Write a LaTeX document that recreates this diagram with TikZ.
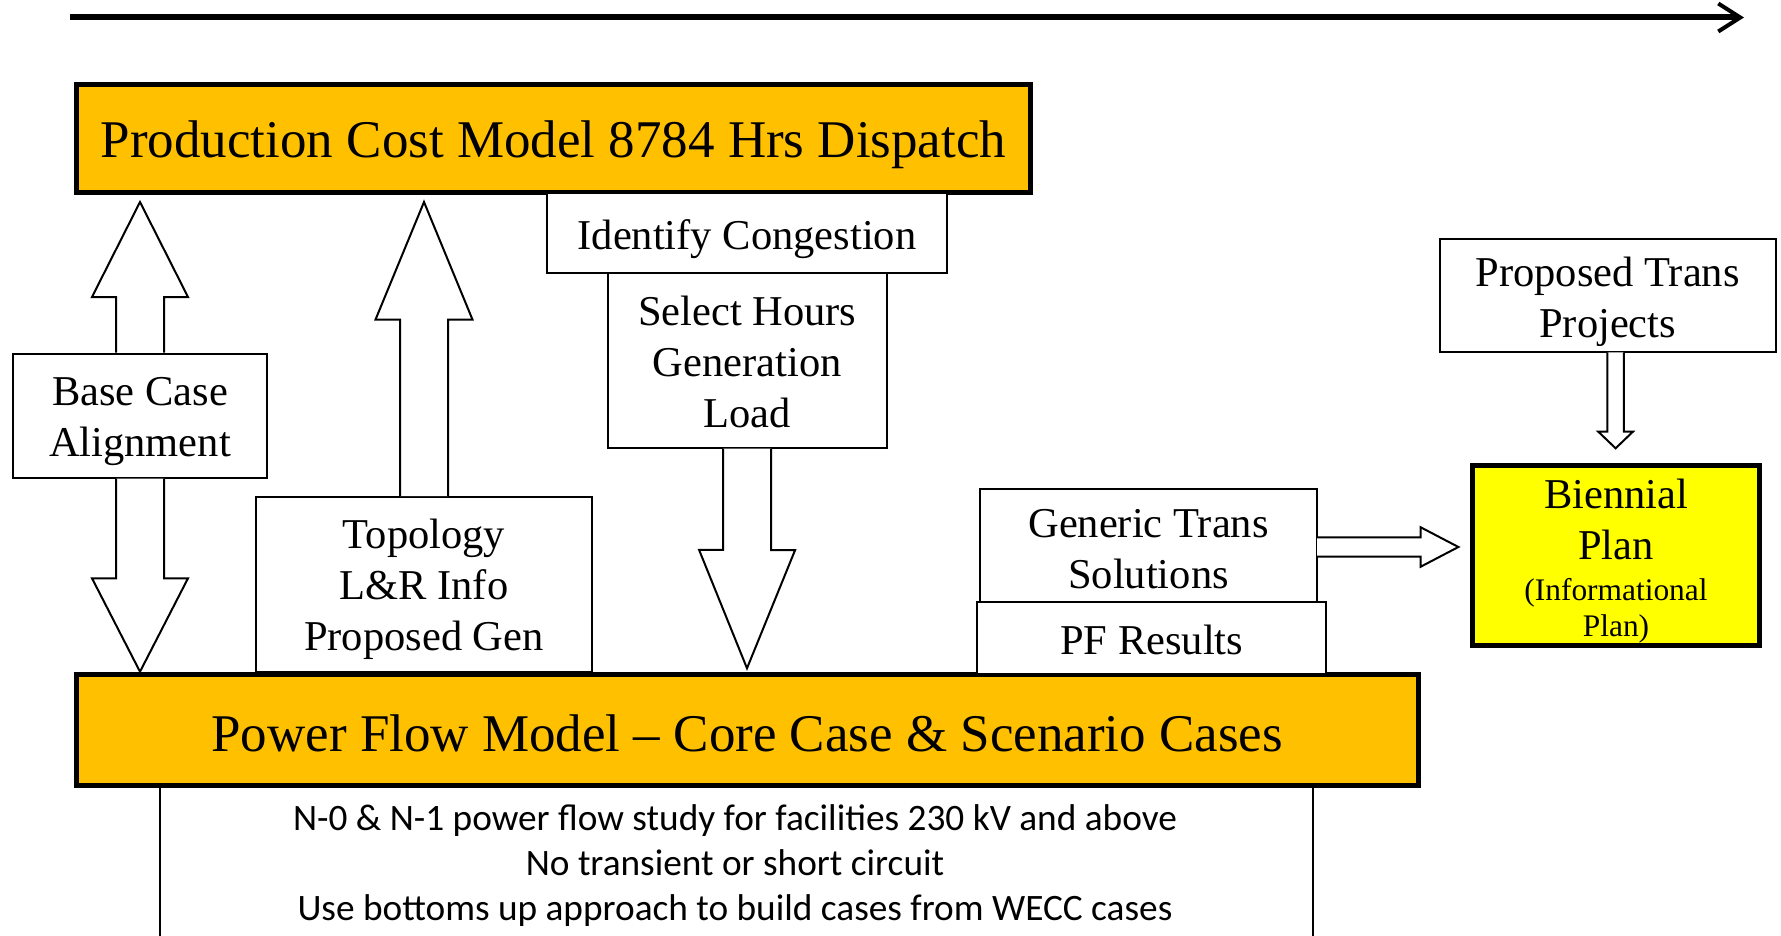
\documentclass[tikz,border=0pt]{standalone}
\usepackage{fontspec}
\setmainfont{Liberation Serif}
\newfontfamily\calibfont{Carlito}
\usetikzlibrary{calc,arrows.meta}
\definecolor{pcorange}{HTML}{FFC000}
\definecolor{bienyellow}{HTML}{FFFF00}
\tikzset{
  thinbox/.style={draw, line width=2pt, fill=white, rectangle, inner sep=0pt},
  thickbox/.style={draw, line width=5pt, rectangle, inner sep=0pt},
  boxtext/.style={align=center, inner sep=0pt, font=\fontsize{42.5}{51}\selectfont},
  bigtext/.style={align=center, inner sep=0pt, font=\fontsize{53}{60}\selectfont},
  smalltext/.style={align=center, inner sep=0pt, font=\fontsize{31.4}{36.5}\selectfont},
  blockarrow/.style={draw, line width=2pt, fill=white, line join=miter},
}
\newcommand\blockarr[5]{% tail, tip, shaft half width, head half width, head length
  \coordinate (hbtmp) at ($(#2)!#5!(#1)$);
  \draw[blockarrow] ($(#1)!#3!90:(#2)$) -- ($(hbtmp)!#3!90:(#2)$) -- ($(hbtmp)!#4!90:(#2)$)
     -- (#2) -- ($(hbtmp)!#4!-90:(#2)$) -- ($(hbtmp)!#3!-90:(#2)$) -- ($(#1)!#3!-90:(#2)$);
}
\begin{document}
\begin{tikzpicture}[x=1pt,y=-1pt]
\useasboundingbox (0,0) rectangle (1781,936);
\clip (0,0) rectangle (1781,936);

% top arrow
\coordinate (tl) at (70,17.5);
\coordinate (tr) at (1744,17.5);
\draw[line width=6pt, -{Straight Barb[length=22pt,width=28pt,line width=4pt]}] (tl) -- (tr);

% bottom notes box
\coordinate (nbl) at (160,786);
\coordinate (nbr) at (1312.5,1000);
\draw[line width=2pt] (nbl) rectangle (nbr);
\node[align=center, font=\calibfont\fontsize{37.3}{45}\selectfont] (notes) at (735,866)
  {N-0 \& N-1 power flow study for facilities 230 kV and above\\
   No transient or short circuit\\
   Use bottoms up approach to build cases from WECC cases};

% main boxes
\node[thickbox, fill=pcorange, minimum width=954pt, minimum height=108pt] (pcm) at (553.5,138.5) {};
\node[bigtext] (pcmt) at ($(pcm)+(0,6)$) {Production Cost Model 8784 Hrs Dispatch};
\node[thickbox, fill=pcorange, minimum width=1341.5pt, minimum height=111pt] (pfm) at (747.25,729.5) {};
\node[bigtext] (pfmt) at ($(pfm)+(0,4)$) {Power Flow Model -- Core Case \& Scenario Cases};

% input boxes
\node[thinbox, minimum width=254.6pt, minimum height=124pt] (base) at (140,415.7) {};
\node[boxtext] (baset) at ($(base)+(0,6)$) {Base Case\\Alignment};
\node[thinbox, minimum width=336pt, minimum height=175pt] (topo) at (424,584.5) {};
\node[boxtext] (topot) at ($(topo)+(0,5)$) {Topology\\L\&R Info\\Proposed Gen};
\node[thinbox, minimum width=400pt, minimum height=80pt] (ident) at (747,233) {};
\node[boxtext] (identt) at ($(ident)+(0,6)$) {Identify Congestion};
\node[thinbox, minimum width=279pt, minimum height=175pt] (sel) at (747.2,360.2) {};
\node[boxtext] (selt) at ($(sel)+(0,1.5)$) {Select Hours\\Generation\\Load};
\node[thinbox, minimum width=336pt, minimum height=113pt] (prop) at (1607.7,295.8) {};
\node[boxtext] (propt) at ($(prop)+(0,6)$) {Proposed Trans\\Projects};
\node[thinbox, minimum width=337pt, minimum height=112.4pt] (gen) at (1148.5,545.5) {};
\node[boxtext] (gent) at ($(gen)+(0,3.5)$) {Generic Trans\\Solutions};
\node[thinbox, minimum width=348.7pt, minimum height=72.3pt] (pfr) at (1151.7,637.8) {};
\node[boxtext] (pfrt) at ($(pfr)+(0,2.5)$) {PF Results};
\node[thickbox, fill=bienyellow, minimum width=286.5pt, minimum height=180pt] (bien) at (1616.2,555) {};
\node[boxtext] (bient) at (1616,519.5) {Biennial\\Plan};
\node[smalltext] (bient2) at (1616,611) {(Informational\\Plan)};

% block arrows
\coordinate (a1tip) at (140,202);
\coordinate (a2tip) at (140,671.7);
\coordinate (a3tip) at (424,202);
\coordinate (a4tip) at (747,668.3);
\coordinate (a5tail) at (1615.6,352.3);
\coordinate (a5tip) at (1615.6,448.3);
\coordinate (a6tail) at (1317,547);
\coordinate (a6tip) at (1458.4,547);
\blockarr{base.north}{a1tip}{24pt}{48pt}{95pt}
\blockarr{base.south}{a2tip}{24pt}{48pt}{93.4pt}
\blockarr{topo.north}{a3tip}{24pt}{48.5pt}{117.6pt}
\blockarr{sel.south}{a4tip}{24pt}{48pt}{118.3pt}
\blockarr{a5tail}{a5tip}{8.2pt}{17.3pt}{16.6pt}
\blockarr{a6tail}{a6tip}{9.7pt}{19.7pt}{37.7pt}
\end{tikzpicture}
\end{document}
